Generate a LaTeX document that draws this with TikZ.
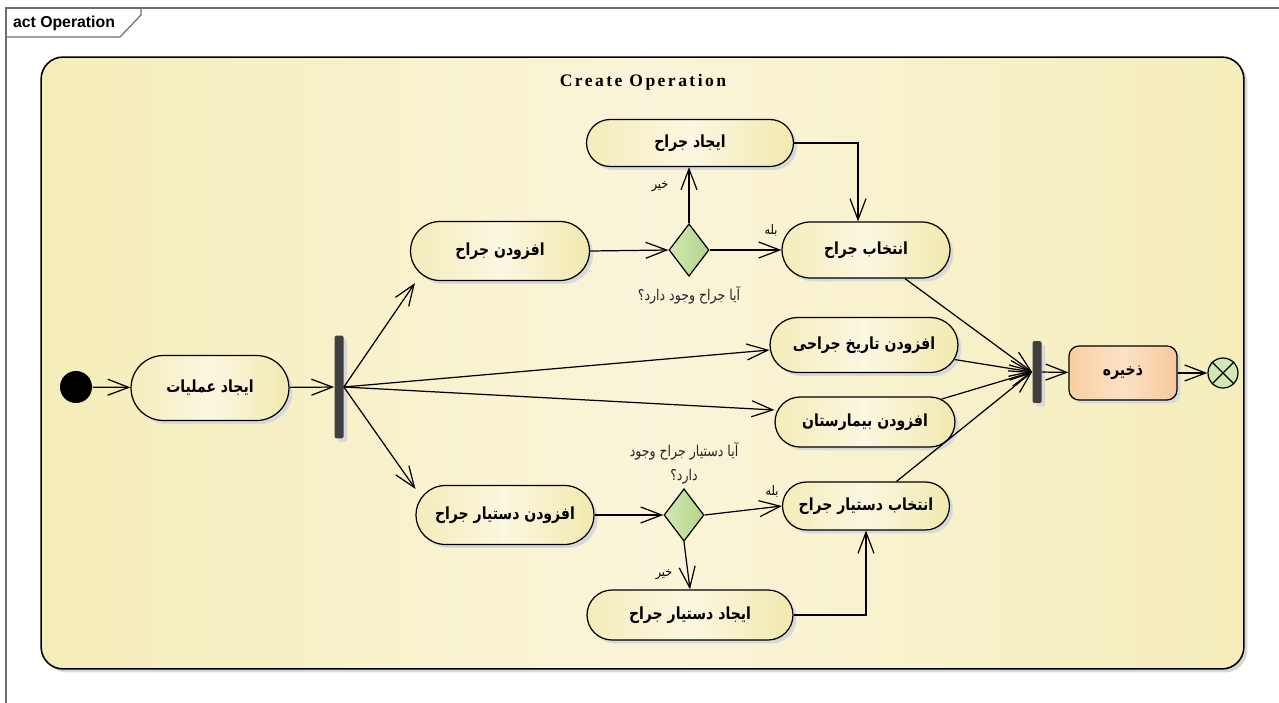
\documentclass[tikz,border=0pt]{standalone}
\usepackage{fontspec}
\setmainfont{Liberation Sans}
\newfontfamily\fafont[Script=Arabic, FakeStretch=0.84]{DejaVu Sans}
\newfontfamily\titlefont[LetterSpace=14]{Liberation Serif}
\TeXXeTstate=1
\usetikzlibrary{arrows.meta,shapes.geometric,shapes.misc,shadows,calc}

\definecolor{boxL}{HTML}{F5EDB9}
\definecolor{boxM}{HTML}{FAF5DA}
\definecolor{boxR}{HTML}{F5EDBB}
\definecolor{actL}{HTML}{F4ECBA}
\definecolor{actM}{HTML}{FBF7E1}
\definecolor{actR}{HTML}{F2E9AF}
\definecolor{saveL}{HTML}{F8CFA2}
\definecolor{saveM}{HTML}{FCE1C6}
\definecolor{saveR}{HTML}{F7C99C}
\definecolor{decL}{HTML}{D2E8B2}
\definecolor{decR}{HTML}{B4D489}
\definecolor{barcol}{HTML}{404040}
\definecolor{shadowgray}{HTML}{D8D8D8}
\definecolor{framecol}{HTML}{6E6E6E}

\begin{document}
\begin{tikzpicture}[x=0.02cm, y=-0.02cm,
    shade/.style={drop shadow={shadow xshift=0.07cm, shadow yshift=-0.07cm, fill=shadowgray, opacity=1}},
    region/.style={draw, line width=0.9pt, rounded corners=0.44cm, left color=boxL, right color=boxR, middle color=boxM, shade},
    action/.style={draw, rounded rectangle, line width=0.7pt, left color=actL, right color=actR, middle color=actM, shade,
        inner sep=2pt, font=\fafont\bfseries\fontsize{9.5}{11}\selectfont},
    savebox/.style={draw, rectangle, rounded corners=0.2cm, line width=0.7pt, left color=saveL, right color=saveR, middle color=saveM, shade,
        font=\fafont\bfseries\fontsize{9.5}{11}\selectfont},
    decision/.style={draw, diamond, inner sep=0pt, line width=0.7pt, left color=decL, right color=decR, minimum width=0.8cm, minimum height=1.05cm},
    bar/.style={rectangle, fill=barcol, rounded corners=0.03cm, minimum width=0.18cm, inner sep=0pt, shade},
    guard/.style={font=\fafont\fontsize{7.5}{8}\selectfont, inner sep=1pt},
    question/.style={font=\fafont\fontsize{8.5}{13.7}\selectfont, text=black!85, align=center},
    arrow/.style={-{Straight Barb[length=4.2mm, width=3.2mm]}, line width=0.7pt}
]
\useasboundingbox (0,0) rectangle (1279,703);

% Frame
\draw[framecol, line width=0.7pt] (6,703) -- (6,8) -- (1279,8);
\draw[framecol, line width=0.7pt] (6,37) -- (120,37) -- (141,15) -- (141,8);
\node[font=\bfseries\fontsize{9}{11}\selectfont] (tab) at (64,23) {act Operation};

% Activity region
\node[region, minimum width=24.06cm, minimum height=12.24cm] (box) at (642.5,363) {};
\node[font=\titlefont\bfseries\fontsize{10}{12}\selectfont] (title) at (643,82) {Create Operation};

% Start and create
\node[circle, fill=black, minimum size=0.64cm, inner sep=0pt] (init) at (76,387) {};
\node[action, minimum width=3.3cm, minimum height=1.3cm] (act1) at (210,388) {\beginR ایجاد عملیات\endR};

% Fork
\node[bar, minimum height=2.06cm] (fork) at (339,387) {};

% Surgeon branch
\node[action, minimum width=3.72cm, minimum height=1.18cm] (addS) at (500,251) {\beginR افزودن جراح\endR};
\node[decision] (d1) at (689,250) {};
\node[action, minimum width=4.28cm, minimum height=0.94cm] (makeS) at (690,143) {\beginR ایجاد جراح\endR};
\node[action, minimum width=3.5cm, minimum height=1.12cm] (selS) at (866,250) {\beginR انتخاب جراح\endR};
\node[guard] (noS) at (660,187) {\beginR خیر\endR};
\node[guard] (yesS) at (771,230) {\beginR بله\endR};
\node[question] (qS) at (689,295) {\beginR آیا جراح وجود دارد؟\endR};

% Date and hospital
\node[action, minimum width=3.9cm, minimum height=1.1cm] (date) at (864,345) {\beginR افزودن تاریخ جراحی\endR};
\node[action, minimum width=3.74cm, minimum height=1.0cm] (hosp) at (865,422) {\beginR افزودن بیمارستان\endR};

% Assistant branch
\node[action, minimum width=3.7cm, minimum height=1.18cm] (addA) at (505,515) {\beginR افزودن دستیار جراح\endR};
\node[decision] (d2) at (684,515) {};
\node[action, minimum width=3.48cm, minimum height=0.96cm] (selA) at (866,506) {\beginR انتخاب دستیار جراح\endR};
\node[action, minimum width=4.26cm, minimum height=1.0cm] (makeA) at (690,615) {\beginR ایجاد دستیار جراح\endR};
\node[guard] (noA) at (664,575) {\beginR خیر\endR};
\node[guard] (yesA) at (772,491) {\beginR بله\endR};
\node[question] (qA) at (684,463) {\beginR آیا دستیار جراح وجود\endR\\\beginR دارد؟\endR};

% Join, save and end
\node[bar, minimum height=1.24cm] (join) at (1037,372) {};
\node[savebox, minimum width=2.16cm, minimum height=1.08cm] (save) at (1123,373) {\beginR ذخیره\endR};
\node[circle, draw, line width=0.7pt, fill=decL, minimum size=0.6cm, inner sep=0pt] (fin) at (1223,373) {};
\draw[line width=0.7pt] (fin.north west) -- (fin.south east);
\draw[line width=0.7pt] (fin.north east) -- (fin.south west);

% Flows
\draw[arrow] (init) -- (act1);
\draw[arrow] (act1) -- (fork);
\draw[arrow] (fork.east) -- ($(addS.west |- addS.south)+(5,2)$);
\draw[arrow] (fork.east) -- ($(date.west)+(0,5)$);
\draw[arrow] (fork.east) -- ($(hosp.west)+(0,-12)$);
\draw[arrow] (fork.east) -- ($(addA.west |- addA.north)+(0,4)$);

\draw[arrow] (addS.east) -- (d1.west);
\draw[arrow] (d1.north) -- (d1.north |- makeS.south);
\draw[arrow] (d1.east) -- (selS.west);
\draw[arrow] (makeS.east) -| ($(selS.north)+(-8,0)$);

\draw[arrow] (addA.east) -- (d2.west);
\draw[arrow] (d2.east) -- (selA.west);
\draw[arrow] (d2.south) -- (makeA.north);
\draw[arrow] (makeA.east) -| (selA.south);

\draw[arrow] (selS) -- (join.west);
\draw[arrow] (date) -- (join.west);
\draw[arrow] (hosp) -- (join.west);
\draw[arrow] (selA) -- (join.west);

\draw[arrow] (join) -- (save);
\draw[arrow] (save) -- (fin);

\end{tikzpicture}
\end{document}
